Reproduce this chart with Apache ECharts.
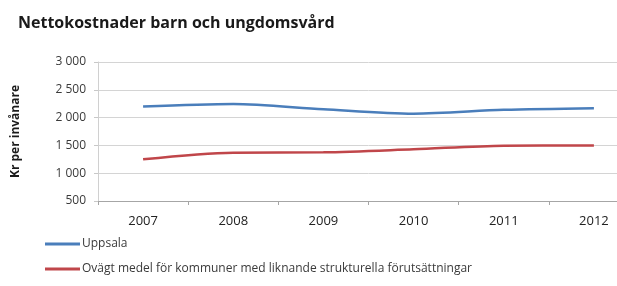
<!DOCTYPE html>
<html>
<head>
<meta charset="utf-8">
<script src="https://cdn.jsdelivr.net/npm/echarts@6/dist/echarts.min.js"></script>
<style>
  html, body { margin: 0; padding: 0; background: #fff; overflow: hidden; }
  /* the plot runs past the right edge in the original, so the canvas is wider than the window */
  #chart { width: 640px; height: 286px; }
</style>
</head>
<body>
<div id="chart"></div>
<script>
  const years = ['2007', '2008', '2009', '2010', '2011', '2012'];
  const uppsala = [2200, 2245, 2150, 2070, 2140, 2170];
  const medel = [1250, 1370, 1375, 1430, 1495, 1500];
  const seriesNames = [
    'Uppsala',
    'Ovägt medel för kommuner med liknande strukturella förutsättningar',
  ];

  const chart = echarts.init(document.getElementById('chart'));
  const fontFamily = '"Open Sans", "Liberation Sans", sans-serif';

  chart.setOption({
    animation: false,
    title: {
      text: 'Nettokostnader barn och ungdomsvård',
      left: 13,
      top: 10,
      textStyle: {
        fontFamily: fontFamily,
        fontSize: 16,
        fontWeight: 'bold',
        color: '#1a1a1a',
      },
    },
    legend: {
      orient: 'vertical',
      left: 40,
      top: 233,
      itemGap: 13,
      itemWidth: 35,
      itemHeight: 3,
      icon: 'rect',
      data: seriesNames,
      textStyle: {
        fontFamily: fontFamily,
        fontSize: 12,
        color: '#3a3a3a',
        padding: [0, 0, 0, -3],
      },
    },
    grid: {
      left: 98,
      top: 62,
      right: 1,
      height: 139,
    },
    xAxis: {
      type: 'category',
      data: years,
      boundaryGap: true,
      axisLine: { lineStyle: { color: '#a6a6a6', width: 1 } },
      axisTick: { show: true, length: 4, lineStyle: { color: '#a6a6a6' } },
      axisLabel: {
        margin: 14,
        fontFamily: fontFamily,
        fontSize: 13,
        color: '#222',
      },
    },
    yAxis: {
      type: 'value',
      min: 500,
      max: 3000,
      interval: 500,
      name: 'Kr per invånare',
      nameLocation: 'middle',
      nameGap: 76,
      nameTextStyle: {
        fontFamily: fontFamily,
        fontSize: 12,
        fontWeight: 'bold',
        color: '#1a1a1a',
      },
      axisLine: { show: true, lineStyle: { color: '#d0d0d0' } },
      axisTick: { show: true, length: 4, lineStyle: { color: '#c8c8c8' } },
      splitLine: { lineStyle: { color: '#d4d4d4', width: 1 } },
      axisLabel: {
        margin: 12,
        fontFamily: fontFamily,
        fontSize: 12,
        color: '#3a3a3a',
        formatter: (v) => String(v).replace(/\B(?=(\d{3})+(?!\d))/g, ' '),
      },
    },
    series: [
      {
        name: seriesNames[0],
        type: 'line',
        smooth: 0.3,
        symbol: 'none',
        data: uppsala,
        itemStyle: { color: '#4a7ebb' },
        lineStyle: { width: 2.5, color: '#4a7ebb' },
      },
      {
        name: seriesNames[1],
        type: 'line',
        smooth: 0.3,
        symbol: 'none',
        data: medel,
        itemStyle: { color: '#c0464a' },
        lineStyle: { width: 2.5, color: '#c0464a' },
      },
    ],
  });
</script>
</body>
</html>
